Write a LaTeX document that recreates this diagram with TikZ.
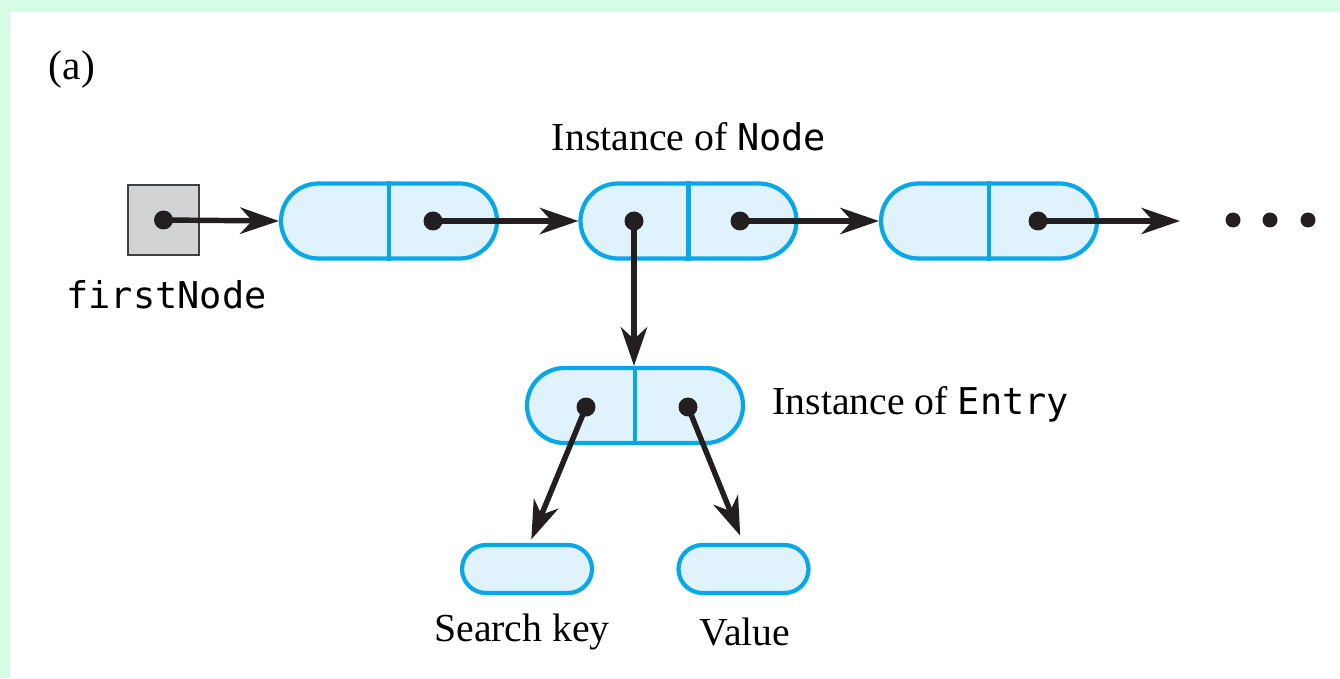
\documentclass[tikz,border=0pt]{standalone}
\usepackage{fontspec}
\setmainfont{Liberation Serif}
\setmonofont{DejaVu Sans Mono}
\usetikzlibrary{arrows.meta,shapes.misc}

\definecolor{framegreen}{RGB}{214,252,230}
\definecolor{linkblue}{RGB}{8,168,232}
\definecolor{linkfill}{RGB}{224,243,253}
\definecolor{refgray}{RGB}{209,211,212}
\definecolor{refedge}{RGB}{64,64,64}
\definecolor{ink}{RGB}{35,31,32}

\tikzset{
  capsule/.style={rounded rectangle, draw=linkblue, fill=linkfill, line width=1.2pt,
    minimum width=2.16cm, minimum height=0.75cm, inner sep=0pt},
  smallcapsule/.style={rounded rectangle, draw=linkblue, fill=linkfill, line width=1.2pt,
    minimum width=1.30cm, minimum height=0.48cm, inner sep=0pt},
  refbox/.style={draw=refedge, fill=refgray, line width=0.6pt,
    minimum width=0.71cm, minimum height=0.70cm, inner sep=0pt},
  dot/.style={circle, fill=ink, minimum size=0.19cm, inner sep=0pt},
  edot/.style={circle, fill=ink, minimum size=0.15cm, inner sep=0pt},
  link/.style={draw=ink, line width=1.55pt,
    -{Stealth[length=11pt,width=7.5pt,inset=3.4pt]}},
  label/.style={font=\fontsize{11.3}{13}\selectfont, inner sep=0pt},
  codelabel/.style={font=\fontsize{10.5}{12}\ttfamily, inner sep=0pt},
}

\begin{document}
\begin{tikzpicture}
  % page and frame
  \fill[framegreen] (0,0) rectangle (13.4,6.78);
  \fill[white] (0.10,0) rectangle (13.4,6.66);
  \useasboundingbox (0,0) rectangle (13.4,6.78);

  \node[label, font=\fontsize{11.8}{13}\selectfont] (tag) at (0.72,6.08) {(a)};

  % reference variable
  \node[refbox] (fn) at (1.635,4.58) {};
  \node[dot] (fnp) at (1.635,4.58) {};
  \node[codelabel] (fnlab) at (1.665,3.83) {firstNode};

  % chain of nodes
  \node[capsule] (n1) at (3.89,4.57) {};
  \node[capsule] (n2) at (6.885,4.57) {};
  \node[capsule] (n3) at (9.89,4.57) {};
  \foreach \n in {n1,n2,n3}
    \draw[linkblue, line width=1.2pt] (\n.north) -- (\n.south);

  \node[dot] (n1p) at (4.33,4.57) {};
  \node[dot] (n2e) at (6.34,4.57) {};
  \node[dot] (n2p) at (7.40,4.57) {};
  \node[dot] (n3p) at (10.38,4.57) {};
  \coordinate (tail) at (11.80,4.57);

  \node[label] (nodelab) at (6.89,5.41) {Instance of \texttt{\fontsize{10.5}{12}\selectfont Node}};

  % entry object
  \node[capsule] (en) at (6.35,2.725) {};
  \draw[linkblue, line width=1.2pt] (en.north) -- (en.south);
  \node[dot] (enk) at (5.86,2.71) {};
  \node[dot] (env) at (6.88,2.71) {};
  \node[label, anchor=west] (enlab) at (7.72,2.74) {Instance of \texttt{\fontsize{10.5}{12}\selectfont Entry}};

  % key and value objects
  \node[smallcapsule] (key) at (5.27,1.09) {};
  \node[smallcapsule] (val) at (7.435,1.09) {};
  \node[label] (keylab) at (5.22,0.46) {Search key};
  \node[label] (vallab) at (7.45,0.46) {Value};

  % ellipsis
  \node[edot] (e1) at (12.33,4.58) {};
  \node[edot] (e2) at (12.70,4.58) {};
  \node[edot] (e3) at (13.08,4.58) {};

  % references
  \draw[link] (fnp.center) -- (n1.west);
  \draw[link] (n1p.center) -- (n2.west);
  \draw[link] (n2p.center) -- (n3.west);
  \draw[link] (n3p.center) -- (tail);
  \draw[link] (n2e.center) -- (en.north -| n2e);
  \draw[link, shorten >=0.06cm] (enk.center) -- (5.29,1.33);
  \draw[link, shorten >=0.10cm] (env.center) -- (7.44,1.33);
\end{tikzpicture}
\end{document}
